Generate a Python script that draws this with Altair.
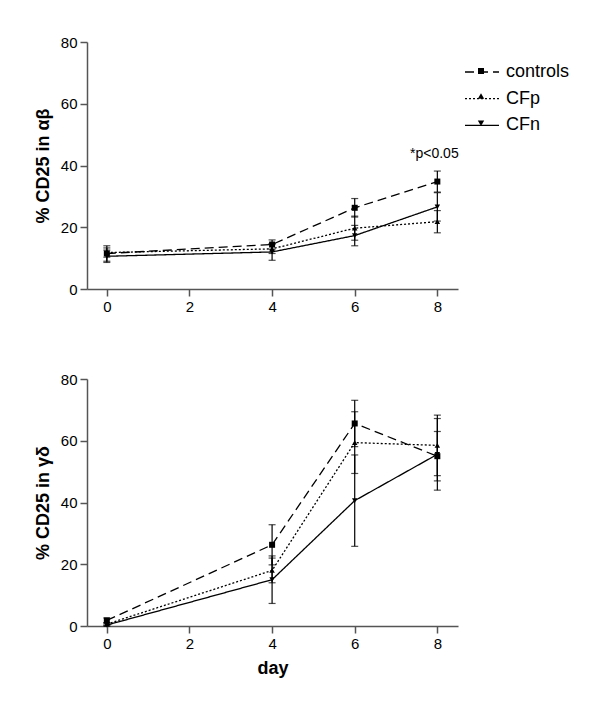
import altair as alt
import pandas as pd

days = [0, 4, 6, 8]
series = ["controls", "CFp", "CFn"]

# top panel: % CD25 in alpha-beta
ab_controls = [11.5, 14.4, 26.3, 34.8]
ab_controls_err = [2.5, 1.5, 3.0, 3.4]
ab_cfp = [11.8, 13.0, 19.7, 21.8]
ab_cfp_err = [1.5, 1.5, 3.9, 3.6]
ab_cfn = [10.6, 12.0, 17.3, 26.6]
ab_cfn_err = [2.0, 2.7, 3.3, 4.6]

# bottom panel: % CD25 in gamma-delta
gd_controls = [1.8, 26.3, 65.6, 55.0]
gd_controls_err = [0.8, 6.5, 7.5, 8.0]
gd_cfp = [0.6, 18.0, 59.4, 58.5]
gd_cfp_err = [0.5, 4.0, 10.0, 9.8]
gd_cfn = [0.3, 15.0, 40.6, 55.6]
gd_cfn_err = [0.3, 7.7, 14.8, 11.6]

x_ticks = [0, 2, 4, 6, 8]
y_ticks = [0, 20, 40, 60, 80]
annotation = "*p<0.05"

marker_keys = [s + "_m" for s in series]


def frame(vals):
    rows = []
    for s, mk, (v, e) in zip(series, marker_keys, vals):
        for d, yv, ev in zip(days, v, e):
            rows.append({"series": s, "marker": mk, "day": d, "value": yv,
                         "lo": yv - ev, "hi": yv + ev})
    return pd.DataFrame(rows)


df_ab = frame([(ab_controls, ab_controls_err), (ab_cfp, ab_cfp_err), (ab_cfn, ab_cfn_err)])
df_gd = frame([(gd_controls, gd_controls_err), (gd_cfp, gd_cfp_err), (gd_cfn, gd_cfn_err)])

FONT = "Liberation Sans"
AX = "#555555"
dashes = {"controls": [9, 5], "CFp": [2, 2], "CFn": [1, 0]}
shapes = {"controls": "square", "CFp": "triangle-up", "CFn": "triangle-down"}
sizes = {"controls": 36, "CFp": 30, "CFn": 30}
marker_paths = [
    "M-0.3,-0.3H0.3V0.3H-0.3Z",
    "M0,-0.35L0.32,0.2H-0.32Z",
    "M0,0.35L0.32,-0.2H-0.32Z",
]
LX, LY = 384, 19


def panel(df, ytitle, xtitle, with_legend, note):
    xenc = alt.X("day:Q", scale=alt.Scale(domain=[-0.48, 8.5], nice=False, zero=False),
                 axis=alt.Axis(values=x_ticks, title=xtitle, format="d"))
    yenc = alt.Y("value:Q", scale=alt.Scale(domain=[0, 80], nice=False),
                 axis=alt.Axis(values=y_ticks, title=ytitle))
    base = alt.Chart(df)
    layers = []
    for s in series:
        sub = base.transform_filter(alt.datum.series == s)
        layers.append(sub.mark_rule(color="black", strokeWidth=1.2).encode(
            x="day:Q", y="lo:Q", y2="hi:Q"))
        layers.append(sub.mark_tick(orient="horizontal", color="black", size=7, thickness=1.2).encode(
            x="day:Q", y="lo:Q"))
        layers.append(sub.mark_tick(orient="horizontal", color="black", size=7, thickness=1.2).encode(
            x="day:Q", y="hi:Q"))
        layers.append(sub.mark_line(color="black", strokeWidth=1.3, strokeDash=dashes[s]).encode(
            x=xenc, y=yenc))
        layers.append(sub.mark_point(shape=shapes[s], filled=True, color="black", opacity=1,
                                     size=sizes[s]).encode(x="day:Q", y="value:Q"))
    if with_legend:
        common = dict(title=None, orient="none", legendX=LX, legendY=LY, padding=0,
                      symbolSize=400, labelFontSize=18, labelFont=FONT, labelColor="black",
                      labelOffset=13, rowPadding=6.7, symbolOpacity=1)
        leg_lines = alt.Legend(symbolType="M-1.7,0H1.7", symbolStrokeWidth=1.3,
                               symbolStrokeColor="black", **common)
        leg_marks = alt.Legend(symbolStrokeWidth=0, symbolFillColor="black", labelExpr="''", **common)
        layers.append(base.mark_point(opacity=0, color="black").encode(
            x="day:Q", y="value:Q",
            strokeDash=alt.StrokeDash("series:N",
                                      scale=alt.Scale(domain=series, range=[dashes[s] for s in series]),
                                      legend=leg_lines),
        ))
        layers.append(base.mark_point(opacity=0, filled=True, color="black").encode(
            x="day:Q", y="value:Q",
            shape=alt.Shape("marker:N", scale=alt.Scale(domain=marker_keys, range=marker_paths),
                            legend=leg_marks),
        ))
    if note:
        ndf = pd.DataFrame({"day": [8], "value": [43.6], "label": [annotation]})
        layers.append(alt.Chart(ndf).mark_text(font=FONT, fontSize=14, color="black", dx=-3).encode(
            x="day:Q", y="value:Q", text="label:N"))
    return alt.layer(*layers).properties(width=371, height=247)


top = panel(df_ab, "% CD25 in αβ", None, True, True)
bottom = panel(df_gd, "% CD25 in γδ", "day", False, False)

chart = alt.vconcat(top, bottom, spacing=58).properties(
    padding={"top": 27, "left": 26, "right": 5, "bottom": 5}
).configure_view(stroke=None).configure_axis(
    grid=False, domainColor=AX, domainWidth=1.5, tickColor=AX, tickWidth=1.5, tickSize=7,
    labelFont=FONT, labelFontSize=15, labelColor="black", labelPadding=3, labelFlush=False,
    titleFont=FONT, titleFontSize=18, titleFontWeight="bold", titleColor="black",
).configure_axisY(titlePadding=8).configure_axisX(titlePadding=8)

chart.save("out.html", embed_options={"renderer": "svg", "actions": False})
